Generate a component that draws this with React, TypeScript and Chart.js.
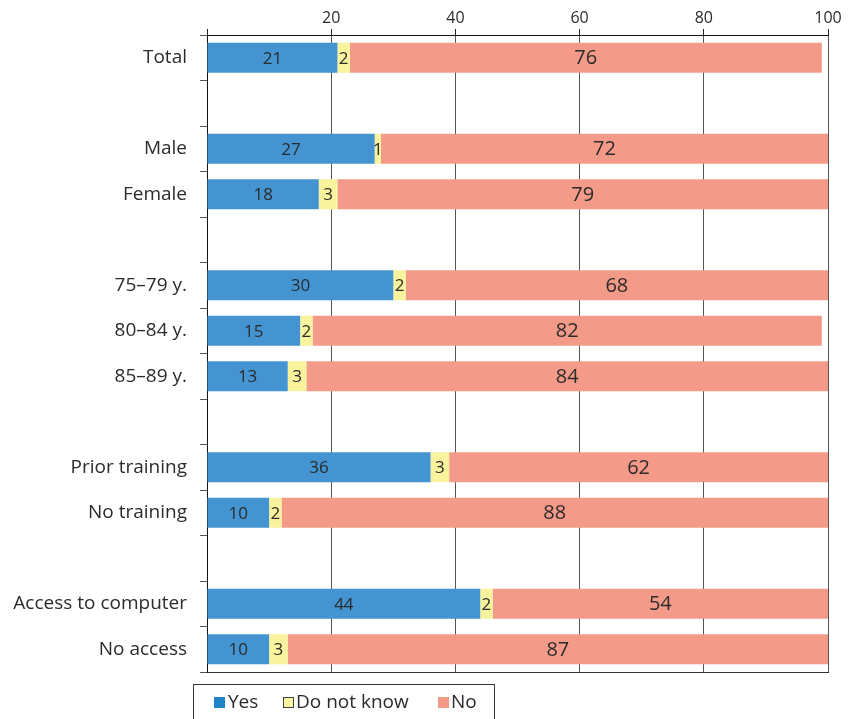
import { useEffect, useRef } from 'react';
import { Chart, registerables } from 'chart.js';

Chart.register(...registerables);

// Survey groups (blank entries are spacer rows between blocks)
const groups = [
  'Total', '',
  'Male', 'Female', '',
  '75–79 y.', '80–84 y.', '85–89 y.', '',
  'Prior training', 'No training', '',
  'Access to computer', 'No access',
];
const yes = [21, null, 27, 18, null, 30, 15, 13, null, 36, 10, null, 44, 10];
const dontKnow = [2, null, 1, 3, null, 2, 2, 3, null, 3, 2, null, 2, 3];
const no = [76, null, 72, 79, null, 68, 82, 84, null, 62, 88, null, 54, 87];
const xTicks = [0, 20, 40, 60, 80, 100];

const seriesNames = ['Yes', 'Do not know', 'No'];
const colors = ['#4394d0', '#f8f39c', '#f49a88'];

const FONT = '"Open Sans", "Noto Sans", sans-serif';
const TEXT = '#2b2b2b';

// Writes each segment's value in the middle of its bar piece
const valueLabels = {
  id: 'valueLabels',
  afterDatasetsDraw(chart: any) {
    const ctx = chart.ctx;
    ctx.save();
    ctx.fillStyle = TEXT;
    ctx.textAlign = 'center';
    ctx.textBaseline = 'middle';
    chart.data.datasets.forEach((ds: any, di: number) => {
      const meta = chart.getDatasetMeta(di);
      ctx.font = `${di === 2 ? 20 : 17}px ${FONT}`;
      meta.data.forEach((bar: any, i: number) => {
        const v = ds.data[i];
        if (v == null) return;
        const right = Math.min(bar.x, chart.chartArea.right);
        const cx = (right + bar.base) / 2;
        ctx.fillText(String(v), cx, bar.y + 1);
      });
    });
    ctx.restore();
  },
};

// Boxed legend below the plot
const boxedLegend = {
  id: 'boxedLegend',
  afterDraw(chart: any) {
    const ctx = chart.ctx;
    const left = 193;
    const top = 684;
    ctx.save();
    ctx.strokeStyle = '#333';
    ctx.lineWidth = 1;
    ctx.strokeRect(left + 0.5, top + 0.5, 301, 60);
    ctx.font = `19px ${FONT}`;
    ctx.textBaseline = 'middle';
    const items = [
      { sx: 214, tx: 228 },
      { sx: 283, tx: 296 },
      { sx: 438, tx: 451 },
    ];
    items.forEach((it, i) => {
      ctx.fillStyle = i === 0 ? '#1f84c8' : colors[i];
      ctx.fillRect(it.sx, 697, 11, 11);
      if (i === 1) {
        ctx.strokeStyle = '#444';
        ctx.strokeRect(it.sx + 0.5, 697.5, 10, 10);
      }
      ctx.fillStyle = TEXT;
      ctx.fillText(seriesNames[i], it.tx, 703);
    });
    ctx.restore();
  },
};

export default function App() {
  const canvasRef = useRef<HTMLCanvasElement | null>(null);

  useEffect(() => {
    document.body.style.margin = '0';
    const canvas = canvasRef.current;
    if (!canvas) return;
    const chart = new Chart(canvas, {
      type: 'bar',
      data: {
        labels: groups,
        datasets: [yes, dontKnow, no].map((d, i) => ({
          label: seriesNames[i],
          data: d,
          backgroundColor: colors[i],
          borderWidth: 0,
          barPercentage: 0.66,
          categoryPercentage: 1,
        })),
      },
      options: {
        indexAxis: 'y',
        animation: false,
        responsive: false,
        layout: { padding: { left: 0, right: 21, top: 0, bottom: 0 } },
        plugins: {
          legend: { display: false },
          tooltip: { enabled: false },
        },
        scales: {
          x: {
            type: 'linear',
            position: 'top',
            stacked: true,
            min: 0,
            max: 100,
            afterBuildTicks: (s: any) => {
              s.ticks = xTicks.map((v) => ({ value: v }));
            },
            afterFit: (s: any) => {
              s.height = 35;
            },
            ticks: {
              font: { family: FONT, size: 16 },
              color: TEXT,
              padding: 1,
              maxRotation: 0,
              callback: (v: any) => (v === 0 ? '' : String(v)),
            },
            grid: {
              color: '#555',
              lineWidth: 1,
              drawTicks: true,
              tickLength: 6,
              tickColor: '#222',
            },
            border: { display: true, color: '#111', width: 1 },
          },
          x2: {
            type: 'linear',
            position: 'bottom',
            min: 0,
            max: 100,
            afterFit: (s: any) => {
              s.height = 47;
            },
            ticks: { display: false },
            grid: { display: true, drawOnChartArea: false, drawTicks: false },
            border: { display: true, color: '#333', width: 1 },
          },
          y: {
            stacked: true,
            afterFit: (s: any) => {
              s.width = 207;
            },
            ticks: {
              font: { family: FONT, size: 19 },
              color: TEXT,
              padding: 13,
            },
            grid: {
              offset: true,
              drawOnChartArea: false,
              drawTicks: true,
              tickLength: 7,
              color: '#555',
            },
            border: { display: true, color: '#111', width: 1 },
          },
        },
      },
      plugins: [valueLabels, boxedLegend],
    });
    return () => chart.destroy();
  }, []);

  return (
    <div style={{ width: 849, height: 719, overflow: 'hidden' }}>
      <canvas ref={canvasRef} width={849} height={719} style={{ display: 'block' }} />
    </div>
  );
}
